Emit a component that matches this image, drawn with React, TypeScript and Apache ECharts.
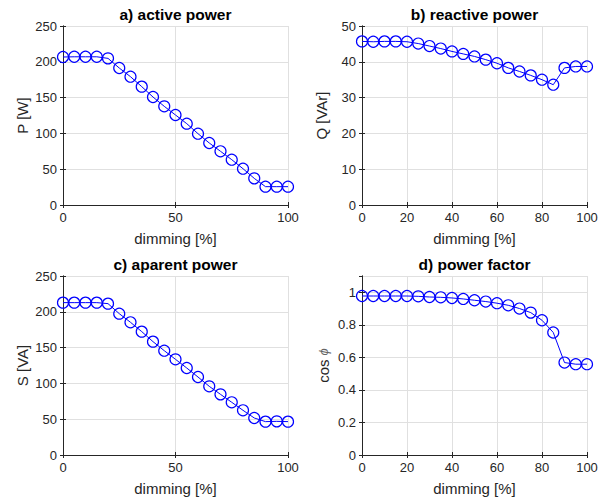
import React, { useEffect, useRef } from "react";
import * as echarts from "echarts";

const dimming = [0, 5, 10, 15, 20, 25, 30, 35, 40, 45, 50, 55, 60, 65, 70, 75, 80, 85, 90, 95, 100];
const activeP = [206.7, 207, 207, 207, 204.8, 191.3, 179.2, 165.3, 150.8, 137.8, 125.7, 113.6, 99.6, 86.6, 75, 63.3, 50.7, 37.2, 25.6, 25.6, 25.6];
const reactiveQ = [45.7, 45.6, 45.7, 45.7, 45.6, 45.1, 44.4, 43.7, 42.9, 42.2, 41.5, 40.6, 39.6, 38.3, 37.3, 36.2, 35.0, 33.6, 38.3, 38.7, 38.7];
const apparentS = [212.8, 212.8, 212.8, 212.8, 211.4, 197.4, 185.3, 172.3, 158.3, 145.7, 133.6, 121.5, 108.9, 95.9, 84.7, 73.6, 62.4, 51.7, 46.6, 47, 46.6];
const powerFactor = [0.977, 0.977, 0.977, 0.977, 0.977, 0.975, 0.971, 0.969, 0.965, 0.959, 0.951, 0.943, 0.933, 0.92, 0.9, 0.875, 0.828, 0.753, 0.568, 0.558, 0.558];

const titles = ["a) active power", "b) reactive power", "c) aparent power", "d) power factor"];
const yNames = ["P [W]", "Q [VAr]", "S [VA]", "cos {phi|ϕ}"];
const xName = "dimming [%]";
const yMax = [250, 50, 250, 1.1];
const yStep = [50, 10, 50, 0.2];
const xStep = [50, 20, 50, 20];
const seriesData = [activeP, reactiveQ, apparentS, powerFactor];

const FONT = "Liberation Sans, Arial, Helvetica, sans-serif";
const AX = "#262626";
const GRIDC = "#e0e0e0";

export default function App() {
  const ref = useRef<HTMLDivElement>(null);
  useEffect(() => {
    if (!ref.current) return;
    const chart = echarts.init(ref.current, null, { renderer: "svg" });
    const layout = [
      { left: 63, top: 26 },
      { left: 362, top: 26 },
      { left: 63, top: 276 },
      { left: 362, top: 276 },
    ];
    const W = 225;
    const H = 179;
    const grid: any[] = [];
    const xAxis: any[] = [];
    const yAxis: any[] = [];
    const title: any[] = [];
    const series: any[] = [];
    for (let i = 0; i < 4; i++) {
      const g = layout[i];
      grid.push({ left: g.left, top: g.top, width: W, height: H, show: false });
      title.push({
        text: titles[i],
        left: g.left + W / 2,
        top: g.top - 20,
        textAlign: "center",
        padding: 0,
        textStyle: { fontFamily: FONT, fontSize: 15.5, fontWeight: "bold", color: "#000" },
      });
      const common = {
        type: "value",
        gridIndex: i,
        axisLine: { show: true, lineStyle: { color: AX, width: 1 } },
        axisTick: { show: true, inside: true, length: 3, lineStyle: { color: AX } },
      };
      xAxis.push({
        ...common,
        position: "bottom",
        min: 0,
        max: 100,
        interval: xStep[i],
        axisLabel: { fontFamily: FONT, fontSize: 13, color: AX, margin: 6 },
        splitLine: { show: true, lineStyle: { color: GRIDC, width: 1 } },
        name: xName,
        nameLocation: "middle",
        nameGap: 26,
        nameTextStyle: { fontFamily: FONT, fontSize: 15, color: AX },
      });
      xAxis.push({
        ...common,
        position: "top",
        min: 0,
        max: 100,
        interval: xStep[i],
        axisLabel: { show: false },
        splitLine: { show: false },
      });
      yAxis.push({
        ...common,
        position: "left",
        min: 0,
        max: yMax[i],
        interval: yStep[i],
        axisLabel: { fontFamily: FONT, fontSize: 13, color: AX, margin: 6, showMaxLabel: i !== 3 },
        splitLine: { show: true, lineStyle: { color: GRIDC, width: 1 } },
        name: yNames[i],
        nameLocation: "middle",
        nameRotate: 90,
        nameGap: i === 3 ? 31 : 33,
        nameTextStyle: {
          fontFamily: FONT,
          fontSize: 15,
          color: AX,
          rich: { phi: { fontFamily: FONT, fontSize: 13, fontStyle: "italic", color: "#666" } },
        },
      });
      yAxis.push({
        ...common,
        position: "right",
        min: 0,
        max: yMax[i],
        interval: yStep[i],
        axisLabel: { show: false },
        splitLine: { show: false },
      });
      series.push({
        type: "line",
        xAxisIndex: i * 2,
        yAxisIndex: i * 2,
        data: dimming.map((d, k) => [d, seriesData[i][k]]),
        symbol: "circle",
        symbolSize: 11,
        showSymbol: true,
        lineStyle: { color: "#0000ff", width: 1 },
        itemStyle: { color: "rgba(0,0,0,0)", borderColor: "#0000ff", borderWidth: 1.2 },
        color: "#0000ff",
      });
    }
    chart.setOption({
      animation: false,
      backgroundColor: "#fff",
      title,
      grid,
      xAxis,
      yAxis,
      series,
    });
    return () => chart.dispose();
  }, []);
  return (
    <div
      ref={ref}
      style={{ position: "absolute", left: 0, top: 0, width: 609, height: 499 }}
    />
  );
}
